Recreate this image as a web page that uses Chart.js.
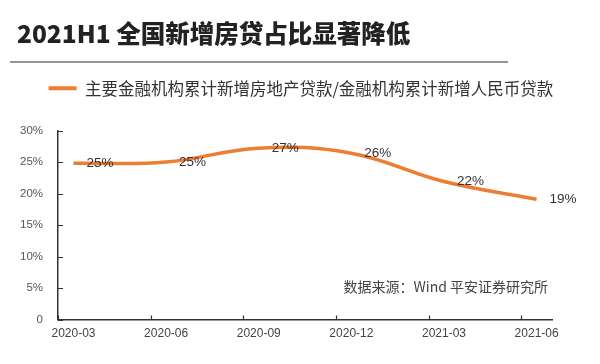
<!DOCTYPE html>
<html>
<head>
<meta charset="utf-8">
<script src="https://cdn.jsdelivr.net/npm/chart.js@4.4.1/dist/chart.umd.min.js"></script>
<style>
  html, body { margin: 0; padding: 0; background: #fff; }
  #wrap { width: 600px; height: 364px; }
</style>
</head>
<body>
<div id="wrap"><canvas id="loanChart" width="600" height="364"></canvas></div>
<script>
// ---------------------- DATA ------------------------
const chartTitle = "2021H1 全国新增房贷占比显著降低";
const seriesName = "主要金融机构累计新增房地产贷款/金融机构累计新增人民币贷款";
const sourceNote = "数据来源：Wind 平安证券研究所";

const xLabels = ["2020-03", "2020-06", "2020-09", "2020-12", "2021-03", "2021-06"];
const monthIndex = [0, 3, 6, 9, 12, 15]; // months since 2020-03
const shareValues = [24.8, 25.0, 27.2, 26.4, 21.9, 19.1]; // percent
const xTickPos = [-0.5, 2.5, 5.5, 8.5, 11.5, 14.5];
const yTicks = [0, 5, 10, 15, 20, 25, 30];

const ORANGE = "#ED7D31";
const AXIS = "#333";
const CJK = '"Noto Sans CJK SC", "Noto Sans", sans-serif';
const LATIN = '"Liberation Sans", Arial, sans-serif';

// ---------------------- EXTRA DRAWING ------------------------
const decorPlugin = {
  id: "decor",
  beforeDraw(chart) {
    const ctx = chart.ctx;
    ctx.save();
    // title + rule under it
    ctx.fillStyle = "#222";
    ctx.font = "900 24.5px " + CJK;
    ctx.textBaseline = "middle";
    ctx.textAlign = "left";
    ctx.fillText(chartTitle, 17, 34);
    ctx.strokeStyle = "#707070";
    ctx.lineWidth = 1.5;
    ctx.beginPath();
    ctx.moveTo(10, 62);
    ctx.lineTo(508, 62);
    ctx.stroke();
    ctx.restore();
  },
  afterDatasetsDraw(chart) {
    const ctx = chart.ctx;
    const area = chart.chartArea;
    const xs = chart.scales.x;
    const ys = chart.scales.y;
    ctx.save();

    // tick marks pointing into the plot
    ctx.strokeStyle = AXIS;
    ctx.lineWidth = 1.2;
    ctx.beginPath();
    xs.ticks.forEach((t) => {
      const px = Math.round(xs.getPixelForValue(t.value)) + 0.5;
      ctx.moveTo(px, area.bottom);
      ctx.lineTo(px, area.bottom - 4);
    });
    ys.ticks.forEach((t) => {
      const py = Math.round(ys.getPixelForValue(t.value)) + 0.5;
      ctx.moveTo(area.left, py);
      ctx.lineTo(area.left + 5, py);
    });
    ctx.stroke();

    // value labels, right of each point
    const meta = chart.getDatasetMeta(0);
    ctx.fillStyle = "#333";
    ctx.font = "13.5px " + LATIN;
    ctx.textAlign = "left";
    ctx.textBaseline = "middle";
    meta.data.forEach((pt, i) => {
      ctx.fillText(Math.round(shareValues[i]) + "%", pt.x + 13, pt.y);
    });

    // source note
    ctx.fillStyle = "#444";
    ctx.font = "14px " + CJK;
    ctx.textAlign = "right";
    ctx.fillText(sourceNote, area.right - 4, area.bottom - 33);
    ctx.restore();
  },
};

// ---------------------- CHART ------------------------
const ctx = document.getElementById("loanChart").getContext("2d");

new Chart(ctx, {
  type: "line",
  data: {
    datasets: [
      {
        label: seriesName,
        data: monthIndex.map((m, i) => ({ x: m, y: shareValues[i] })),
        borderColor: ORANGE,
        backgroundColor: ORANGE,
        borderWidth: 3.5,
        tension: 0.4,
        pointRadius: 0,
        fill: false,
      },
    ],
  },
  options: {
    responsive: false,
    animation: false,
    layout: { padding: { top: 70, left: 10, right: 8, bottom: 16 } },
    plugins: {
      title: { display: false },
      subtitle: {
        display: true,
        text: "",
        weight: 500,
        padding: 0,
        font: { size: 20 },
      },
      legend: {
        display: true,
        position: "top",
        labels: {
          boxWidth: 28,
          boxHeight: 4,
          padding: 10,
          color: "#333",
          font: { family: CJK, size: 16.5 },
          generateLabels(chart) {
            const items = Chart.defaults.plugins.legend.labels.generateLabels(chart);
            return items.map((it) => ({ ...it, lineWidth: 0 }));
          },
        },
      },
      tooltip: { enabled: false },
    },
    scales: {
      x: {
        type: "linear",
        min: -0.5,
        max: 15.5,
        afterBuildTicks(scale) {
          scale.ticks = xTickPos.map((v) => ({ value: v }));
        },
        grid: { display: false, drawTicks: false, tickLength: 0 },
        border: { display: true, color: AXIS, width: 1.5 },
        ticks: {
          autoSkip: false,
          maxRotation: 0,
          padding: 7,
          labelOffset: 15.5,
          color: "#444",
          font: { family: LATIN, size: 12 },
          callback: (v, i) => xLabels[i],
        },
      },
      y: {
        min: 0,
        max: 30,
        afterBuildTicks(scale) {
          scale.ticks = yTicks.map((v) => ({ value: v }));
        },
        afterFit(scale) {
          scale.width = 48;
        },
        grid: { display: false, drawTicks: false, tickLength: 0 },
        border: { display: true, color: AXIS, width: 1.5 },
        ticks: {
          padding: 15,
          color: "#555",
          font: { family: LATIN, size: 11.5 },
          callback: (v) => (v === 0 ? "0" : v + "%"),
        },
      },
      yRight: {
        type: "linear",
        position: "right",
        display: true,
        afterFit(scale) {
          scale.width = 40;
        },
        grid: { display: false, drawTicks: false },
        border: { display: false },
        ticks: { display: false },
      },
    },
  },
  plugins: [decorPlugin],
});
</script>
</body>
</html>
